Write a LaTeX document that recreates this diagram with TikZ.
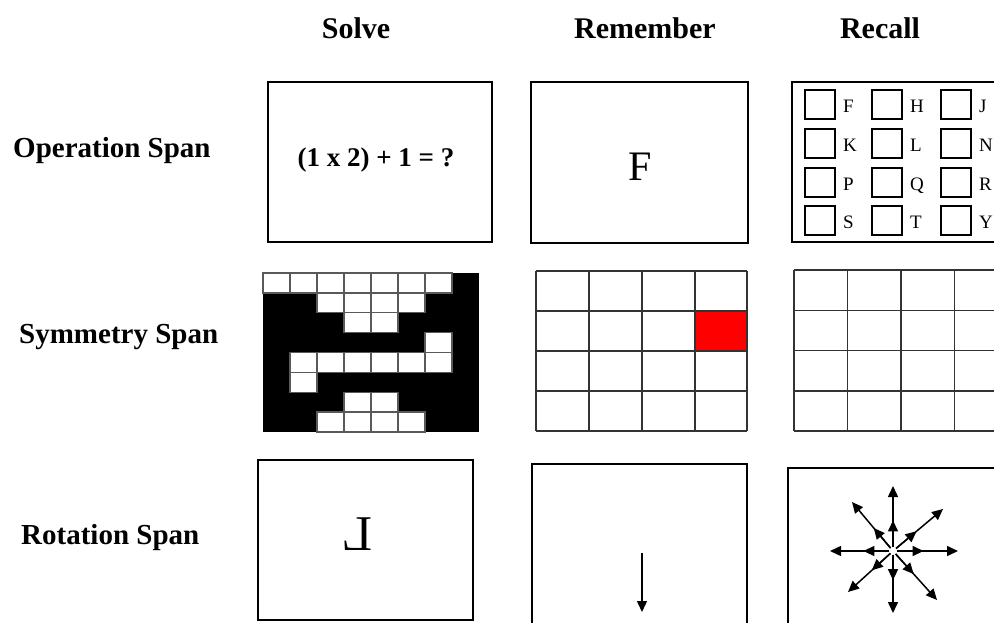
\documentclass[tikz,border=0pt]{standalone}
\usepackage{fontspec}
\setmainfont{Liberation Serif}
\usepackage{graphicx}
\usetikzlibrary{arrows.meta,calc}
\begin{document}
\begin{tikzpicture}[x=1pt,y=-1pt,
  box/.style={draw=black,line width=2pt},
  gridline/.style={draw=black!80,line width=1.5pt},
  cell/.style={fill=white,draw=black!65,line width=1.4pt},
  hdr/.style={font=\fontsize{30}{34}\selectfont\bfseries,anchor=base,inner sep=0pt},
  rowlab/.style={font=\fontsize{29}{34}\selectfont\bfseries,anchor=base west,inner sep=0pt},
  chk/.style={draw=black,line width=2.2pt},
  ltr/.style={font=\fontsize{19}{22}\selectfont,anchor=base west,inner sep=0pt},
  star/.style={line width=1.5pt,-{Triangle[length=11pt,width=10pt]}}
]
\useasboundingbox (0,0) rectangle (994,622);
\clip (0,0) rectangle (994,622);

% headers
\node[hdr] (hsolve) at (356,38) {Solve};
\node[hdr] (hrem) at (645,38) {Remember};
\node[hdr] (hrec) at (880,38) {Recall};

% row labels
\node[rowlab] (lop) at (13,157) {Operation Span};
\node[rowlab] (lsym) at (19,343) {Symmetry Span};
\node[rowlab] (lrot) at (21,544) {Rotation Span};

% ---- Operation span ----
\draw[box] (268,82) rectangle (492,242);
\node[font=\fontsize{27}{30}\selectfont\bfseries,anchor=base,inner sep=0pt] (eq) at (376,166) {(1 x 2) + 1 = ?};

\draw[box] (531,82) rectangle (748,243);
\node[font=\fontsize{42}{46}\selectfont,anchor=base,inner sep=0pt] (remF) at (640,180) {F};

\draw[box] (792,82) rectangle (1010,242);
\foreach \x/\la/\lb/\lc/\ld [count=\i] in {805/F/K/P/S, 872/H/L/Q/T, 941/J/N/R/Y}{
  \foreach \y/\l [count=\j] in {90/\la, 129/\lb, 168/\lc, 206/\ld}{
    \draw[chk] (\x,\y) rectangle ++(30,29);
    \node[ltr] (let\i\j) at (\x+38,\y+22) {\l};
  }
}

% ---- Symmetry span ----
\fill[black] (263,273) rectangle (479,432);
\foreach \c/\r in {1/1,2/1,3/1,4/1,5/1,6/1,7/1,
                   3/2,4/2,5/2,6/2,
                   4/3,5/3,
                   7/4,
                   2/5,3/5,4/5,5/5,6/5,7/5,
                   2/6,
                   4/7,5/7,
                   3/8,4/8,5/8,6/8}{
  \draw[cell] ({263+27*(\c-1)},{273+19.875*(\r-1)}) rectangle ++(27,19.875);
}

\fill[red] (695,311) rectangle (747,351);
\foreach \x in {536,589,642,695,747}{
  \draw[gridline] (\x,271) -- (\x,431);
}
\foreach \y in {271,311,351,391,431}{
  \draw[gridline] (536,\y) -- (747,\y);
}

\foreach \x in {794,847.5,901,954.5,1008}{
  \draw[gridline] (\x,270) -- (\x,431);
}
\foreach \y in {270,310.25,350.5,390.75,431}{
  \draw[gridline] (794,\y) -- (1008,\y);
}

% ---- Rotation span ----
\draw[box] (258,460) rectangle (473,620);
\node[font=\fontsize{50}{55}\selectfont,anchor=base,inner sep=0pt] (rotL) at (357,550) {\reflectbox{L}};

\draw[box] (532,464) rectangle (747,640);
\coordinate (a1) at (642,553);
\coordinate (a2) at (642,612);
\draw[line width=1.4pt,-{Triangle[length=11pt,width=10pt]}] (a1) -- (a2);

\draw[box] (788,468) rectangle (1010,640);
\coordinate (sc) at (893,551);
\foreach \dx/\dy in {0/-65, 65/0, -63/0, 0/62, -41/-49, 50/-42, -45/41, 44/49}{
  \draw[star] ($(sc)+0.06*(\dx,\dy)$) -- ($(sc)+(\dx,\dy)$);
  \draw[star] ($(sc)+0.06*(\dx,\dy)$) -- ($(sc)+0.47*(\dx,\dy)$);
}
\end{tikzpicture}
\end{document}
